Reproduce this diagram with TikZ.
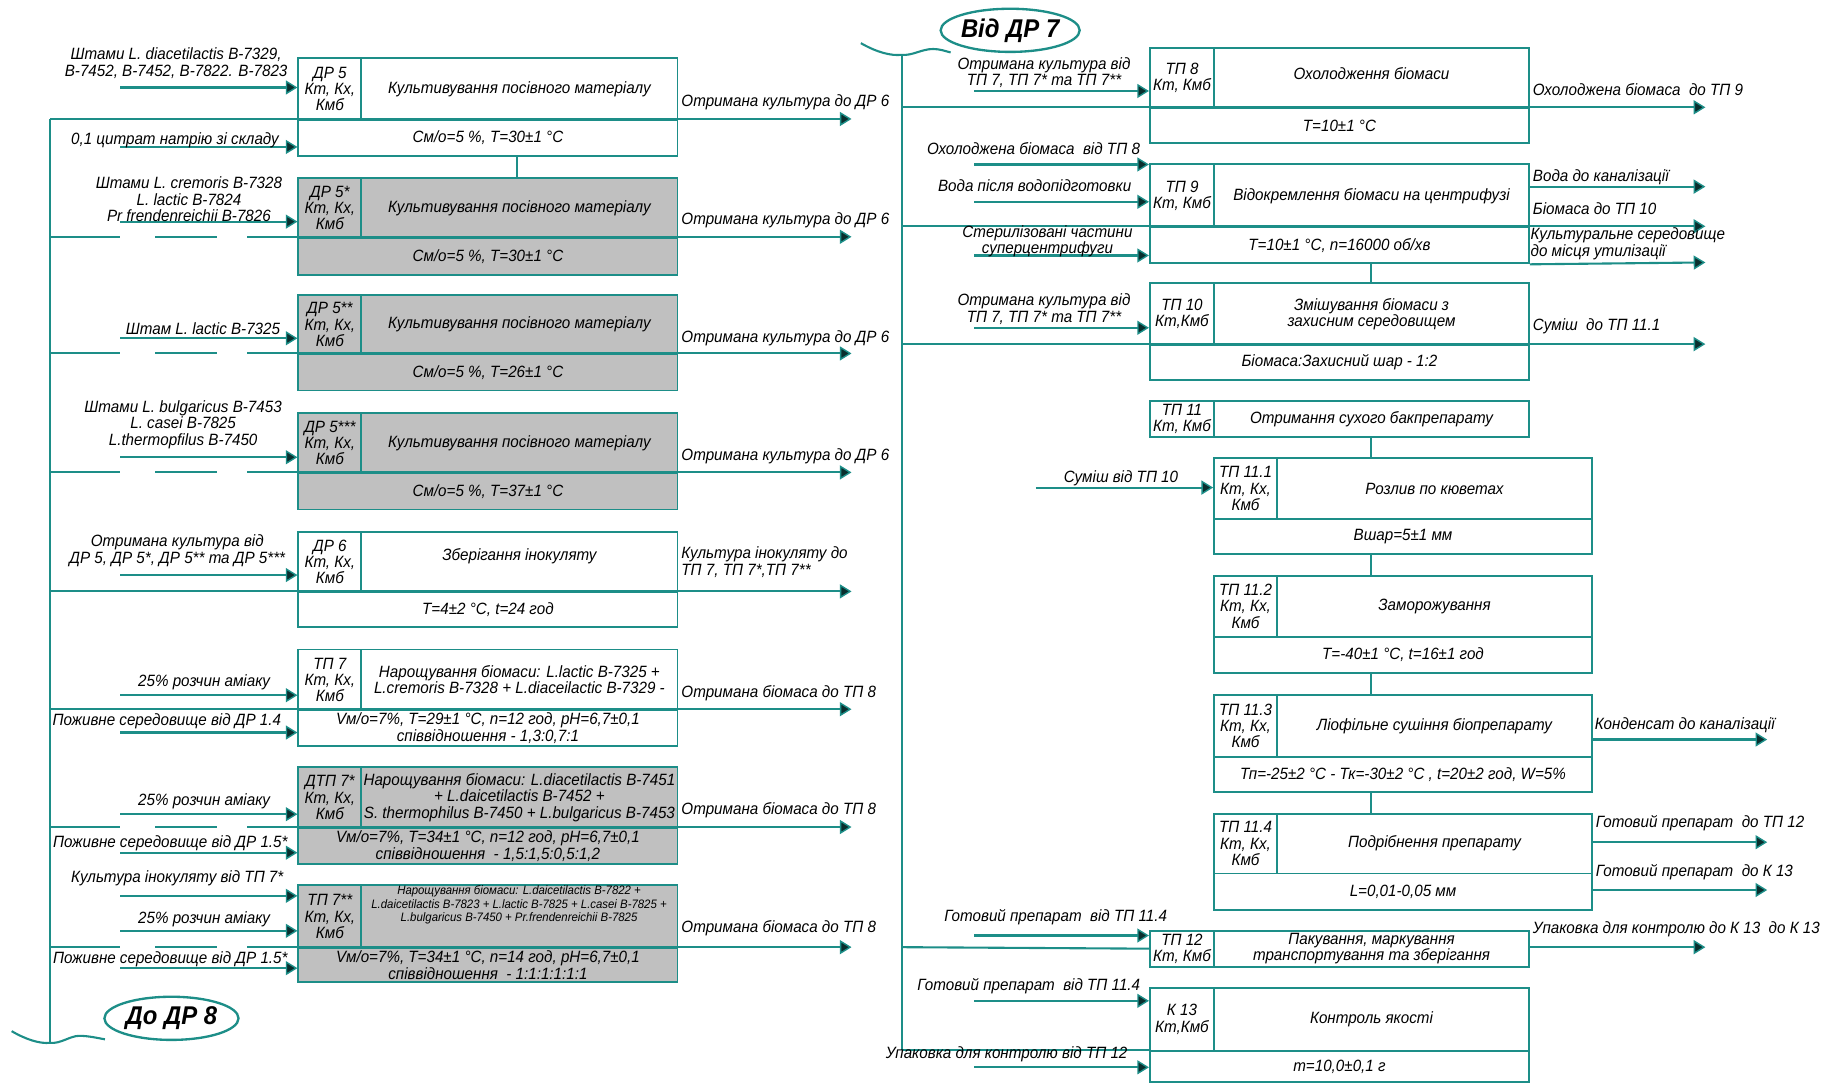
\documentclass[tikz,border=0pt]{standalone}
\usepackage{fontspec}
\setmainfont{Liberation Sans}[FakeStretch=0.93]
\usetikzlibrary{arrows.meta,shapes.geometric}
\definecolor{tl}{HTML}{1D8E88}
\definecolor{tipc}{HTML}{0A2F2E}
\definecolor{gcol}{HTML}{C0C0C0}
\newcommand\lbl{\fontsize{14}{14}\selectfont\itshape}
\newcommand\smlf{\fontsize{10.5}{11.5}\selectfont\itshape}
\newcommand\ovfont{\fontsize{22}{22}\selectfont\bfseries\itshape}
\begin{document}
\begin{tikzpicture}[x=1pt,y=-1pt,
  cell/.style n args={4}{at={(#1,#2)}, anchor=north west,
    minimum width={(#3-#1)*1pt}, minimum height={(#4-#2)*1pt}},
  box/.style={draw=tl, line width=1.6pt, fill=white, inner sep=0pt, align=center, font=\lbl},
  gbx/.style={box, fill=gcol},
  lab/.style={font=\lbl, align=center, inner sep=0pt},
  labl/.style={lab, align=left, anchor=west},
  flow/.style={draw=tl, line width=1.8pt},
  arr/.style={flow, -{Triangle[length=10pt,width=12pt,fill=tipc,line width=1.2pt]}},
  dbus/.style={dash pattern=on 60pt off 30pt on 53pt off 26pt on 3000pt},
  oval/.style={ellipse, draw=tl, line width=2pt, fill=white, minimum width=115pt, minimum height=37pt, inner sep=0pt, font=\ovfont}
]
\useasboundingbox (0,0) rectangle (1568,928);

% ================= LEFT COLUMN =================
% DR 5
\node[box, cell={255}{49}{309}{102}] (dr5i) {ДР 5\\Кт, Кх,\\Кмб};
\node[box, cell={309}{49}{580}{102}] (dr5t) {Культивування посівного матеріалу};
\node[box, cell={255}{102}{580}{133}] (dr5p) {См/о=5 \%, Т=30±1 °С};
% DR 5*
\node[gbx, cell={255}{152}{309}{203}] (dr5ai) {ДР 5*\\Кт, Кх,\\Кмб};
\node[gbx, cell={309}{152}{580}{203}] (dr5at) {Культивування посівного матеріалу};
\node[gbx, cell={255}{203}{580}{235}] (dr5ap) {См/о=5 \%, Т=30±1 °С};
% DR 5**
\node[gbx, cell={255}{252}{309}{303}] (dr5bi) {ДР 5**\\Кт, Кх,\\Кмб};
\node[gbx, cell={309}{252}{580}{303}] (dr5bt) {Культивування посівного матеріалу};
\node[gbx, cell={255}{303}{580}{334}] (dr5bp) {См/о=5 \%, Т=26±1 °С};
% DR 5***
\node[gbx, cell={255}{353}{309}{405}] (dr5ci) {ДР 5***\\Кт, Кх,\\Кмб};
\node[gbx, cell={309}{353}{580}{405}] (dr5ct) {Культивування посівного матеріалу};
\node[gbx, cell={255}{405}{580}{436}] (dr5cp) {См/о=5 \%, Т=37±1 °С};
% DR 6
\node[box, cell={255}{455}{309}{507}] (dr6i) {ДР 6\\Кт, Кх,\\Кмб};
\node[box, cell={309}{455}{580}{507}] (dr6t) {Зберігання інокуляту\\[-2pt]};
\node[box, cell={255}{507}{580}{537}] (dr6p) {Т=4±2 °С, t=24 год};
% TP 7
\node[box, cell={255}{556}{309}{608}] (tp7i) {ТП 7\\Кт, Кх,\\Кмб};
\node[box, cell={309}{556}{580}{608}] (tp7t) {Нарощування біомаси: L.lactic B-7325 +\\L.cremoris B-7328 + L.diaceilactic B-7329 -};
\node[box, cell={255}{608}{580}{639}] (tp7p) {Vм/о=7\%, Т=29±1 °С, n=12 год, pH=6,7±0,1\\співвідношення - 1,3:0,7:1};
% DTP 7*
\node[gbx, cell={255}{657}{309}{709}] (tp7ai) {ДТП 7*\\Кт, Кх,\\Кмб};
\node[gbx, cell={309}{657}{580}{709}] (tp7at) {Нарощування біомаси: L.diacetilactis B-7451\\+ L.daicetilactis B-7452 +\\S. thermophilus B-7450 + L.bulgaricus B-7453};
\node[gbx, cell={255}{709}{580}{740}] (tp7ap) {Vм/о=7\%, Т=34±1 °С, n=12 год, pH=6,7±0,1\\співвідношення~ - 1,5:1,5:0,5:1,2};
% TP 7**
\node[gbx, cell={255}{758}{309}{812}] (tp7bi) {ТП 7**\\Кт, Кх,\\Кмб};
\node[gbx, cell={309}{758}{580}{812}] (tp7bt) {};
\node[lab, font=\smlf] (tp7btx) at (445,776) {Нарощування біомаси: L.daicetilactis B-7822 +\\L.daicetilactis B-7823 + L.lactic B-7825 + L.casei B-7825 +\\L.bulgaricus B-7450 + Pr.frendenreichii B-7825};
\node[gbx, cell={255}{812}{580}{841}] (tp7bp) {Vм/о=7\%, Т=34±1 °С, n=14 год, pH=6,7±0,1\\співвідношення~ - 1:1:1:1:1:1};

% connector DR5 -> DR5*
\coordinate (cx1) at (443,0);
\draw[flow] (dr5p.south -| cx1) -- (dr5at.north -| cx1);

% left bus
\coordinate (lbt) at (43,102);
\coordinate (lbb) at (43,894);
\draw[flow] (lbt) -- (lbb);
\foreach \n/\y in {1/102,2/203,3/303,4/405,5/507,6/608,7/709,8/812}{
  \coordinate (lb\n) at (43,\y);
  \coordinate (lo\n) at (730,\y);
}
\draw[arr] (lb1) -- (lo1);
\draw[arr,dbus] (lb2) -- (lo2);
\draw[arr,dbus] (lb3) -- (lo3);
\draw[arr,dbus] (lb4) -- (lo4);
\draw[arr] (lb5) -- (lo5);
\draw[arr] (lb6) -- (lo6);
\draw[arr,dbus] (lb7) -- (lo7);
\draw[arr,dbus] (lb8) -- (lo8);

% left inputs
\foreach \n/\y in {a/75,b/126,c/190,d/290,e/392,f/493,g/596,h/628,i/698,j/731,k/768,l/798,m/830}{
  \coordinate (li\n) at (103,\y);
}
\draw[arr] (lia) -- (lia -| dr5i.west);
\draw[arr] (lib) -- (lib -| dr5p.west);
\draw[arr] (lic) -- (lic -| dr5ai.west);
\draw[arr] (lid) -- (lid -| dr5bi.west);
\draw[arr] (lie) -- (lie -| dr5ci.west);
\draw[arr] (lif) -- (lif -| dr6i.west);
\draw[arr] (lig) -- (lig -| tp7i.west);
\draw[arr] (lih) -- (lih -| tp7p.west);
\draw[arr] (lii) -- (lii -| tp7ai.west);
\draw[arr] (lij) -- (lij -| tp7ap.west);
\draw[arr] (lik) -- (lik -| tp7bi.west);
\draw[arr] (lil) -- (lil -| tp7bi.west);
\draw[arr] (lim) -- (lim -| tp7bp.west);

% left input labels
\node[lab] (l1) at (151,54) {Штами L. diacetilactis B-7329,\\B-7452, B-7452, B-7822. B-7823};
\node[lab] (l2) at (150,120) {0,1 цитрат натрію зі складу};
\node[lab] (l3) at (162,171) {Штами L. cremoris B-7328\\L. lactic B-7824\\Pr frendenreichii B-7826};
\node[lab] (l4) at (174,282) {Штам L. lactic B-7325};
\node[lab] (l5) at (157,364) {Штами L. bulgaricus B-7453\\L. casei B-7825\\L.thermopfilus B-7450};
\node[lab] (l6) at (152,472) {Отримана культура від\\ДР 5, ДР 5*, ДР 5** та ДР 5***};
\node[lab] (l7) at (175,585) {25\% розчин аміаку};
\node[lab] (l8) at (143,618) {Поживне середовище від ДР 1.4};
\node[lab] (l9) at (175,687) {25\% розчин аміаку};
\node[lab] (l10) at (146,723) {Поживне середовище від ДР 1.5*};
\node[lab] (l11) at (152,753) {Культура інокуляту від ТП 7*};
\node[lab] (l12) at (175,788) {25\% розчин аміаку};
\node[lab] (l13) at (146,822) {Поживне середовище від ДР 1.5*};

% left output labels
\node[labl] (lo1t) at (584,88) {Отримана культура до ДР 6};
\node[labl] (lo2t) at (584,189) {Отримана культура до ДР 6};
\node[labl] (lo3t) at (584,290) {Отримана культура до ДР 6};
\node[labl] (lo4t) at (584,391) {Отримана культура до ДР 6};
\node[labl] (lo5t) at (584,482) {Культура інокуляту до\\ТП 7, ТП 7*,ТП 7**};
\node[labl] (lo6t) at (584,594) {Отримана біомаса до ТП 8};
\node[labl] (lo7t) at (584,695) {Отримана біомаса до ТП 8};
\node[labl] (lo8t) at (584,796) {Отримана біомаса до ТП 8};

% bottom-left brace and oval
\draw[flow] (10,884) .. controls (22,891) and (34,895) .. (lbb) .. controls (52,895) and (60,888) .. (68,888) .. controls (76,888) and (84,890) .. (90,891);
\node[oval] (todr8) at (147,873) {До ДР 8};

% ================= RIGHT COLUMN =================
% TP 8
\node[box, cell={985}{40}{1040}{92}] (tp8i) {ТП 8\\Кт, Кмб};
\node[box, cell={1040}{40}{1310}{92}] (tp8t) {Охолодження біомаси\\[-6pt]};
\node[box, cell={985}{92}{1310}{122}] (tp8p) {Т=10±1 °С};
% TP 9
\node[box, cell={985}{140}{1040}{194}] (tp9i) {ТП 9\\Кт, Кмб};
\node[box, cell={1040}{140}{1310}{194}] (tp9t) {Відокремлення біомаси на центрифузі};
\node[box, cell={985}{194}{1310}{225}] (tp9p) {Т=10±1 °С, n=16000 об/хв};
% TP 10
\node[box, cell={985}{242}{1040}{295}] (tp10i) {ТП 10\\Кт,Кмб};
\node[box, cell={1040}{242}{1310}{295}] (tp10t) {Змішування біомаси з\\захисним середовищем};
\node[box, cell={985}{295}{1310}{325}] (tp10p) {Біомаса:Захисний шар - 1:2};
% TP 11
\node[box, cell={985}{343}{1040}{374}] (tp11i) {ТП 11\\Кт, Кмб};
\node[box, cell={1040}{343}{1310}{374}] (tp11t) {Отримання сухого бакпрепарату};
% TP 11.1
\node[box, cell={1040}{392}{1094}{444}] (tp111i) {ТП 11.1\\Кт, Кх,\\Кмб};
\node[box, cell={1094}{392}{1364}{444}] (tp111t) {Розлив по кюветах};
\node[box, cell={1040}{444}{1364}{474}] (tp111p) {Вшар=5±1 мм};
% TP 11.2
\node[box, cell={1040}{493}{1094}{545}] (tp112i) {ТП 11.2\\Кт, Кх,\\Кмб};
\node[box, cell={1094}{493}{1364}{545}] (tp112t) {Заморожування};
\node[box, cell={1040}{545}{1364}{576}] (tp112p) {Т=-40±1 °С, t=16±1 год};
% TP 11.3
\node[box, cell={1040}{595}{1094}{648}] (tp113i) {ТП 11.3\\Кт, Кх,\\Кмб};
\node[box, cell={1094}{595}{1364}{648}] (tp113t) {Ліофільне сушіння біопрепарату};
\node[box, cell={1040}{648}{1364}{678}] (tp113p) {Тп=-25±2 °С - Тк=-30±2 °С , t=20±2 год, W=5\%};
% TP 11.4
\node[box, cell={1040}{697}{1094}{748}] (tp114i) {ТП 11.4\\Кт, Кх,\\Кмб};
\node[box, cell={1094}{697}{1364}{748}] (tp114t) {Подрібнення препарату};
\node[box, cell={1040}{748}{1364}{779}] (tp114p) {L=0,01-0,05 мм};
% TP 12
\node[box, cell={985}{797}{1040}{828}] (tp12i) {ТП 12\\Кт, Кмб};
\node[box, cell={1040}{797}{1310}{828}] (tp12t) {Пакування, маркування\\транспортування та зберігання};
% K 13
\node[box, cell={985}{846}{1040}{900}] (k13i) {К 13\\Кт,Кмб};
\node[box, cell={1040}{846}{1310}{900}] (k13t) {Контроль якості};
\node[box, cell={985}{900}{1310}{927}] (k13p) {m=10,0±0,1 г};

% vertical connectors
\coordinate (cx2) at (1175,0);
\draw[flow] (tp9p.south -| cx2) -- (tp10t.north -| cx2);
\draw[flow] (tp11t.south -| cx2) -- (tp111i.north -| cx2);
\draw[flow] (tp111p.south -| cx2) -- (tp112i.north -| cx2);
\draw[flow] (tp112p.south -| cx2) -- (tp113i.north -| cx2);
\draw[flow] (tp113p.south -| cx2) -- (tp114i.north -| cx2);

% right bus
\coordinate (rbt) at (773,47);
\coordinate (rbb) at (773,900);
\draw[flow] (rbt) -- (rbb);
\coordinate (rb1) at (773,92);   \coordinate (ro1) at (1462,92);
\coordinate (rb2) at (773,194);  \coordinate (ro2) at (1462,194);
\coordinate (rb3) at (773,295);  \coordinate (ro3) at (1462,295);
\coordinate (rb4) at (773,812);
\draw[arr] (rb1) -- (ro1);
\draw[arr] (rb2) -- (ro2);
\draw[arr] (rb3) -- (ro3);
\draw[flow] (rb4) -- (tp12i.west);
\draw[flow] (rbb) -- (k13p.north west);

% top brace and oval
\draw[flow] (738,37) .. controls (752,45) and (764,48) .. (rbt) .. controls (782,48) and (790,42) .. (800,42) .. controls (806,42) and (811,44) .. (815,45);
\node[oval] (fromdr7) at (866,26) {Від ДР 7};

% right inputs
\foreach \n/\y in {a/78,b/141,c/173,d/219,e/281,g/802,h/858,i/915}{
  \coordinate (ri\n) at (835,\y);
}
\coordinate (rif) at (888,418);
\draw[arr] (ria) -- (ria -| tp8i.west);
\draw[arr] (rib) -- (rib -| tp9i.west);
\draw[arr] (ric) -- (ric -| tp9i.west);
\draw[arr] (rid) -- (rid -| tp9p.west);
\draw[arr] (rie) -- (rie -| tp10i.west);
\draw[arr] (rif) -- (rif -| tp111i.west);
\draw[arr] (rig) -- (rig -| tp12i.west);
\draw[arr] (rih) -- (rih -| k13i.west);
\draw[arr] (rii) -- (rii -| k13p.west);

% right outputs
\coordinate (ro4) at (1462,160);
\coordinate (ro5) at (1462,225);
\coordinate (ro6) at (1515,634);
\coordinate (ro7) at (1515,722);
\coordinate (ro8) at (1515,763);
\coordinate (ro9) at (1462,812);
\draw[arr] (ro4 -| tp9t.east) -- (ro4);
\draw[arr] (tp9p.south east) -- (ro5);
\draw[arr] (ro6 -| tp113t.east) -- (ro6);
\draw[arr] (ro7 -| tp114t.east) -- (ro7);
\draw[arr] (ro8 -| tp114p.east) -- (ro8);
\draw[arr] (ro9 -| tp12t.east) -- (ro9);

% right input labels
\node[lab] (r1) at (895,62) {Отримана культура від\\ТП 7, ТП 7* та ТП 7**};
\node[lab] (r2) at (886,127) {Охолоджена біомаса~ від ТП 8};
\node[lab] (r3) at (887,159) {Вода після водопідготовки};
\node[lab] (r4) at (898,207) {Стерилізовані частини\\суперцентрифуги};
\node[lab] (r5) at (895,265) {Отримана культура від\\ТП 7, ТП 7* та ТП 7**};
\node[lab] (r6) at (961,410) {Суміш від ТП 10};
\node[lab] (r7) at (905,786) {Готовий препарат~ від ТП 11.4};
\node[lab] (r8) at (882,845) {Готовий препарат~ від ТП 11.4};
\node[lab] (r9) at (863,904) {Упаковка для контролю від ТП 12};

% right output labels
\node[labl] (s1) at (1314,77) {Охолоджена біомаса~ до ТП 9};
\node[labl] (s2) at (1314,152) {Вода до каналізації};
\node[labl] (s3) at (1314,179) {Біомаса до ТП 10};
\node[labl] (s4) at (1312,209) {Культуральне середовище\\до місця утилізації};
\node[labl] (s5) at (1314,280) {Суміш~ до ТП 11.1};
\node[labl] (s6) at (1367,622) {Конденсат до каналізації};
\node[labl] (s7) at (1368,706) {Готовий препарат~ до ТП 12};
\node[labl] (s8) at (1368,748) {Готовий препарат~ до К 13};
\node[labl] (s9) at (1314,797) {Упаковка для контролю до К 13~ до К 13};
\end{tikzpicture}
\end{document}
